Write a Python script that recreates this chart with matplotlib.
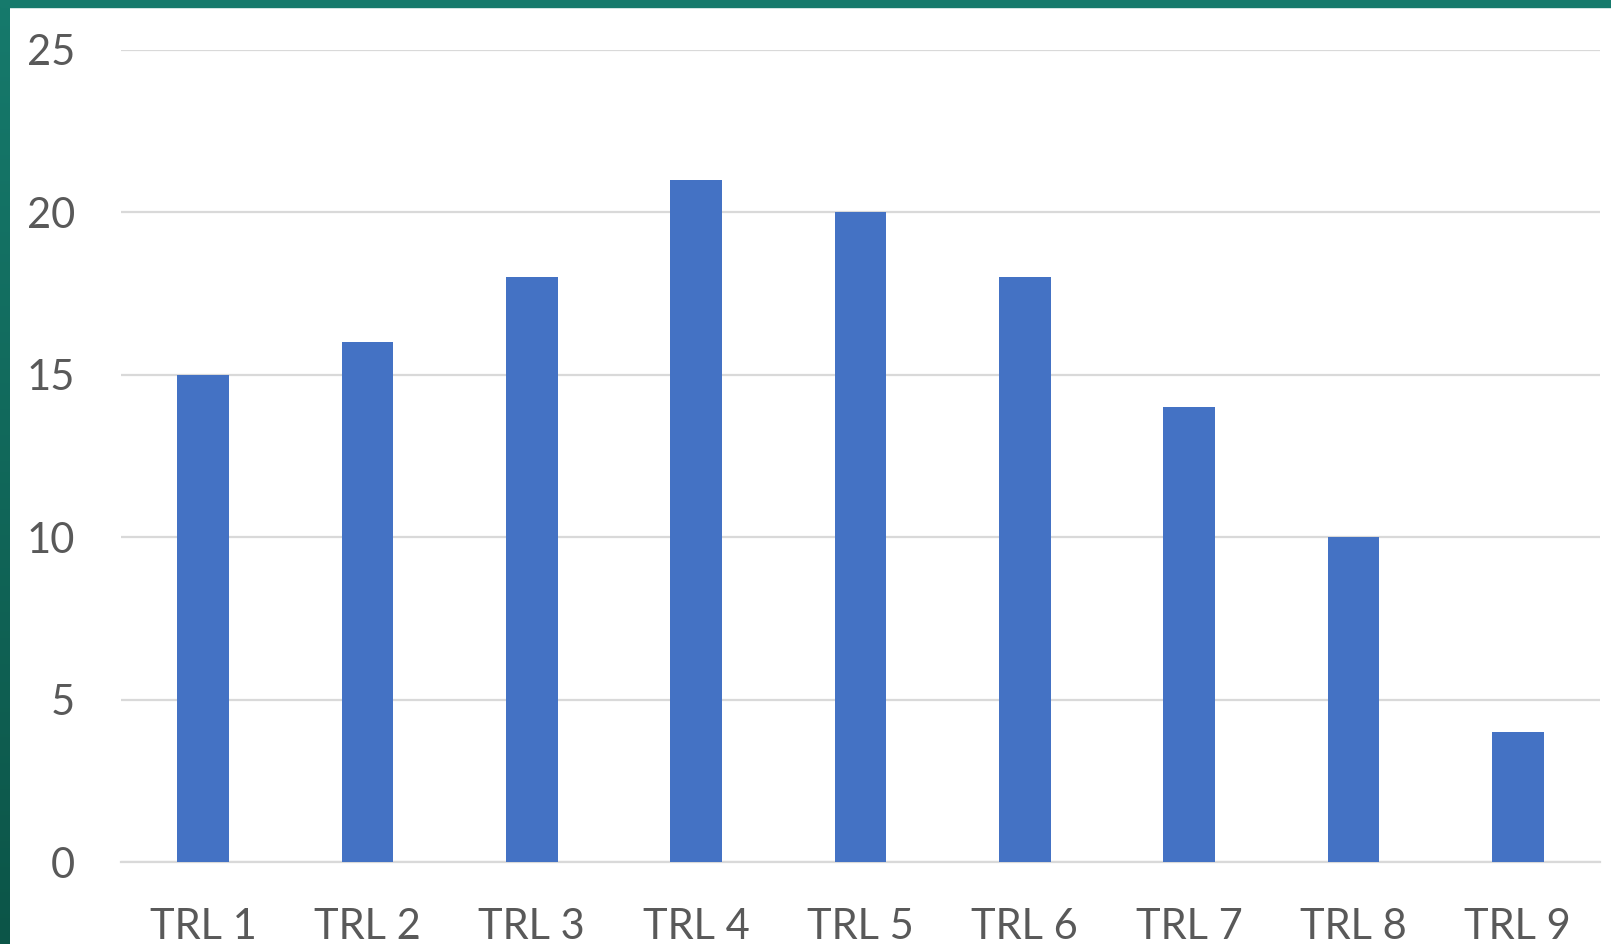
import matplotlib
matplotlib.use("Agg")
import matplotlib.pyplot as plt
import numpy as np
from matplotlib.patches import Rectangle

plt.rcParams["font.family"] = ["Lato", "DejaVu Sans"]

# data
categories = ["TRL 1", "TRL 2", "TRL 3", "TRL 4", "TRL 5", "TRL 6", "TRL 7", "TRL 8", "TRL 9"]
values = [15, 16, 18, 21, 20, 18, 14, 10, 4]
yticks = [0, 5, 10, 15, 20, 25]

bar_color = "#4472C4"
grid_color = "#D9D9D9"
text_color = "#595959"

fig = plt.figure(figsize=(16.11, 9.44), dpi=100, facecolor="white")
ax = fig.add_axes([121 / 1611, 1 - 862 / 944, (1600 - 121) / 1611, (862 - 50) / 944])

x = np.arange(len(categories))
ax.bar(x, values, width=0.316, color=bar_color, zorder=3)

ax.set_xlim(-0.5, len(categories) - 0.5)
ax.set_ylim(0, 25)
ax.set_yticks(yticks)
ax.set_xticks(x)
ax.set_xticklabels(categories)

ax.grid(axis="y", color=grid_color, linewidth=1.6, zorder=0)
for s in ["top", "right", "left"]:
    ax.spines[s].set_visible(False)
ax.spines["bottom"].set_color(grid_color)
ax.spines["bottom"].set_linewidth(1.6)
ax.tick_params(axis="both", length=0, labelsize=30, labelcolor=text_color)
ax.tick_params(axis="x", pad=33)
ax.tick_params(axis="y", pad=33)

# teal frame on top and left
fig.patches.append(Rectangle((0, 1 - 7 / 944), 1, 7 / 944, transform=fig.transFigure,
                             color="#167A6C", zorder=10))
bax = fig.add_axes([0, 0, 10 / 1611, 1])
grad = np.linspace(0, 1, 256).reshape(-1, 1)
top_c = np.array([0x16, 0x7A, 0x6C]) / 255
bot_c = np.array([0x0C, 0x55, 0x48]) / 255
img = top_c[None, None, :] * (1 - grad[:, :, None]) + bot_c[None, None, :] * grad[:, :, None]
bax.imshow(img, aspect="auto", extent=[0, 1, 0, 1])
bax.axis("off")

fig.savefig("out.png", dpi=100, facecolor="white")
